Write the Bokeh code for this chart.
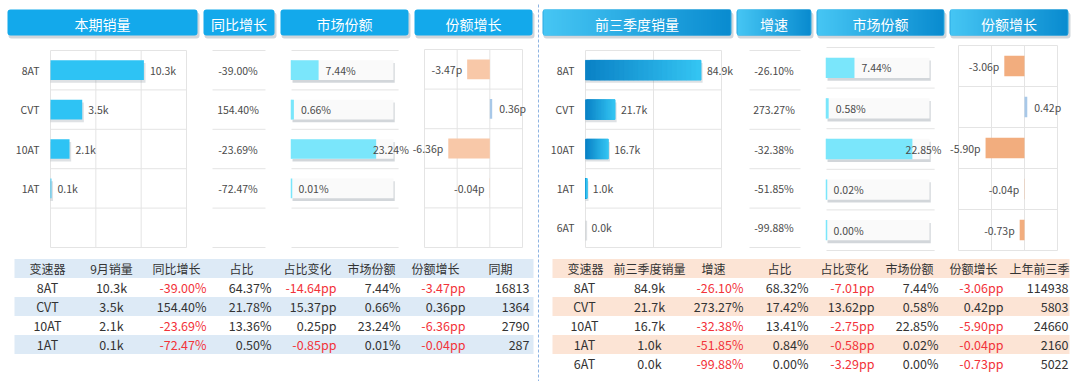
import numpy as np
from bokeh.plotting import figure
from bokeh.models import Range1d, ColumnDataSource
from bokeh.core.properties import value
from bokeh.embed import file_html
from bokeh.resources import INLINE

# ---------------- data ----------------
left_cats = ["8AT", "CVT", "10AT", "1AT"]
left_sales_k = [10.3, 3.5, 2.1, 0.1]
left_yoy = [-39.00, 154.40, -23.69, -72.47]
left_ratio = [64.37, 21.78, 13.36, 0.50]
left_ratio_chg = [-14.64, 15.37, 0.25, -0.85]
left_share = [7.44, 0.66, 23.24, 0.01]
left_share_chg = [-3.47, 0.36, -6.36, -0.04]
left_prev = [16813, 1364, 2790, 287]

right_cats = ["8AT", "CVT", "10AT", "1AT", "6AT"]
right_sales_k = [84.9, 21.7, 16.7, 1.0, 0.0]
right_yoy = [-26.10, 273.27, -32.38, -51.85, -99.88]
right_ratio = [68.32, 17.42, 13.41, 0.84, 0.00]
right_ratio_chg = [-7.01, 13.62, -2.75, -0.58, -3.29]
right_share = [7.44, 0.58, 22.85, 0.02, 0.00]
right_share_chg = [-3.06, 0.42, -5.90, -0.04, -0.73]
right_prev = [114938, 5803, 24660, 2160, 5022]

left_headers = ["本期销量", "同比增长", "市场份额", "份额增长"]
right_headers = ["前三季度销量", "增速", "市场份额", "份额增长"]
left_table_headers = ["变速器", "9月销量", "同比增长", "占比", "占比变化", "市场份额", "份额增长", "同期"]
right_table_headers = ["变速器", "前三季度销量", "增速", "占比", "占比变化", "市场份额", "份额增长", "上年前三季"]

left_sales_ticks = [0, 5, 10, 15]
right_sales_ticks = [0, 50, 100]
share_chg_ticks = [-10, -5, 0, 5]
left_share_max = 28.0
right_share_max = 27.4

# ---------------- styling ----------------
FONT = value("Noto Sans CJK SC")
GRID = "#e4e4e4"
TXT = "#4a4a4a"
RED = "#f2333a"
NSLOT = 5
LBL = "10.5px"

W, H = 1080, 381
p = figure(width=W, height=H, x_range=Range1d(0, W), y_range=Range1d(H, 0),
           output_backend="svg", toolbar_location=None, min_border=0,
           x_axis_location=None, y_axis_location=None)
p.grid.visible = False
p.outline_line_color = None
p.background_fill_color = "white"
p.border_fill_color = "white"


def grad_img(c0, c1, n=96):
    a = np.zeros((2, n), dtype=np.uint32)
    v = a.view(dtype=np.uint8).reshape((2, n, 4))
    t = np.linspace(0, 1, n)
    for k in range(3):
        v[:, :, k] = (c0[k] + (c1[k] - c0[k]) * t).astype(np.uint8)
    v[:, :, 3] = 255
    return a


def mix(c0, c1, t):
    return "#%02x%02x%02x" % tuple(int(round(a + (b - a) * t)) for a, b in zip(c0, c1))


def sub(x0, x1, xs, y0, y1):
    return p.subplot(x_source=Range1d(xs[0], xs[1]), y_source=Range1d(0, NSLOT),
                     x_target=Range1d(x0, x1), y_target=Range1d(y0, y1))


def hlines(sp, xa, xb):
    n = NSLOT + 1
    sp.segment(x0=[xa] * n, x1=[xb] * n, y0=list(range(n)), y1=list(range(n)),
               line_color=GRID, line_width=1)


def vlines(sp, ticks):
    sp.segment(x0=ticks, x1=ticks, y0=[0] * len(ticks), y1=[NSLOT] * len(ticks),
               line_color=GRID, line_width=1)


def txt(sp, x, y, t, align="left", color=TXT, size=LBL, xoff=0, yoff=0):
    sp.text(x=x, y=y, text=t, text_align=align, text_baseline="middle",
            text_color=color, text_font=FONT, text_font_size=size,
            x_offset=xoff, y_offset=yoff)


# ---------------- headers ----------------
hdr_left_boxes = [(7, 197), (203, 274), (280, 408), (414, 532)]
hdr_right_boxes = [(542, 731), (736, 811), (816, 944), (949, 1068)]
HY0, HY1 = 9, 35
for (a, b) in hdr_left_boxes + hdr_right_boxes:
    p.quad(left=a + 1, right=b + 2, top=HY0 + 3, bottom=HY1 + 3, fill_color="#7a8a99",
           fill_alpha=0.35, line_color=None, border_radius=3)
for (a, b), t in zip(hdr_left_boxes, left_headers):
    p.quad(left=a, right=b, top=HY0, bottom=HY1, fill_color="#13a9eb", line_color=None,
           border_radius=3)
    p.text(x=[(a + b) / 2], y=[(HY0 + HY1) / 2 + 1], text=[t], text_align="center",
           text_baseline="middle", text_color="white", text_font=FONT, text_font_size="14px")
hgrad = grad_img((70, 198, 244), (10, 140, 208))
for (a, b), t in zip(hdr_right_boxes, right_headers):
    p.quad(left=a, right=b, top=HY0, bottom=HY1, fill_color="#2aa9e2", line_color=None,
           border_radius=3)
    p.image_rgba(image=[hgrad], x=a + 1, y=HY0, dw=b - a - 2, dh=HY1 - HY0)
    p.text(x=[(a + b) / 2], y=[(HY0 + HY1) / 2 + 1], text=[t], text_align="center",
           text_baseline="middle", text_color="white", text_font=FONT, text_font_size="14px")

# divider
p.segment(x0=[538], x1=[538], y0=[4], y1=[381], line_color="#8db3e2", line_width=1,
          line_dash="3 2")

GRAD_N = 24


def panel_half(cats, sales_k, sales_ticks, sx, yoy, yx, share, shx, share_max, sy_share,
               chg, cx, sy_chg, bar_color, grad, neg_color, sy_main, lab_cap):
    n = len(cats)
    yc = [i + 0.5 for i in range(n)]
    # ---- sales panel
    s1 = sub(sx[0], sx[1], (sales_ticks[0], sales_ticks[-1]), sy_main[0], sy_main[1])
    hlines(s1, sales_ticks[0], sales_ticks[-1])
    vlines(s1, sales_ticks)
    rng = sales_ticks[-1] - sales_ticks[0]
    s1.hbar(y=[c + 0.07 for c in yc], left=0, right=[v + rng * 0.012 for v in sales_k],
            height=0.5, fill_color="#6b7785", fill_alpha=0.22, line_color=None)
    s1.hbar(y=yc, left=0, right=sales_k, height=0.5, fill_color=bar_color, line_color=None)
    if grad is not None:
        ys, ls, rs, cs = [], [], [], []
        for c, v in zip(yc, sales_k):
            if v <= 0:
                continue
            for k in range(GRAD_N):
                ys.append(c)
                ls.append(v * k / GRAD_N)
                rs.append(min(v, v * (k + 2) / GRAD_N))
                cs.append(mix(grad[0], grad[1], k / (GRAD_N - 1)))
        s1.hbar(y=ys, left=ls, right=rs, height=0.5, fill_color=cs, line_color=cs,
                line_width=0.6)
    txt(s1, sales_k, yc, [f"{v:.1f}k" for v in sales_k], xoff=6)
    txt(s1, [0] * n, yc, cats, align="right", xoff=-11)
    # ---- yoy column
    s2 = sub(yx[0], yx[1], (0, 1), sy_main[0], sy_main[1])
    hlines(s2, 0, 1)
    txt(s2, [0.5] * n, yc, [f"{v:.2f}%" for v in yoy], align="center", xoff=-1)
    # ---- share panel
    s3 = sub(shx[0], shx[1], (0, share_max), sy_share[0], sy_share[1])
    hlines(s3, 0, share_max * 1.05)
    s3.hbar(y=[c + 0.07 for c in yc], left=share_max * 0.01, right=share_max * 1.012,
            height=0.5, fill_color="#6b7785", fill_alpha=0.3, line_color=None)
    s3.hbar(y=yc, left=0, right=share_max, height=0.5, fill_color="#fafafa", line_color=None)
    s3.hbar(y=yc, left=0, right=share, height=0.5, fill_color="#7ae6fb", line_color=None)
    s3.segment(x0=[0] * n, x1=[0] * n, y0=[c - 0.25 for c in yc], y1=[c + 0.25 for c in yc],
               line_color="#7ae6fb", line_width=1.5)
    lab_x = [min(v, share_max * lab_cap) for v in share]
    txt(s3, lab_x, yc, [f"{v:.2f}%" for v in share], xoff=7)
    # ---- share change panel
    s4 = sub(cx[0], cx[1], (share_chg_ticks[0], share_chg_ticks[-1]), sy_chg[0], sy_chg[1])
    hlines(s4, share_chg_ticks[0], share_chg_ticks[-1])
    vlines(s4, share_chg_ticks)
    neg = [(c, v) for c, v in zip(yc, chg) if v < 0]
    pos = [(c, v) for c, v in zip(yc, chg) if v >= 0]
    if neg:
        s4.hbar(y=[c for c, _ in neg], left=[v for _, v in neg], right=0, height=0.5,
                fill_color=neg_color, line_color=None)
        txt(s4, [v for _, v in neg], [c for c, _ in neg], [f"{v:.2f}p" for _, v in neg],
            align="right", xoff=-5)
    if pos:
        s4.hbar(y=[c for c, _ in pos], left=0, right=[v for _, v in pos], height=0.5,
                fill_color="#a8c8e8", line_color=None)
        txt(s4, [v for _, v in pos], [c for c, _ in pos], [f"{v:.2f}p" for _, v in pos],
            align="left", xoff=7)


panel_half(left_cats, left_sales_k, left_sales_ticks, (50, 186), left_yoy, (212, 265),
           left_share, (291, 393), left_share_max, (50, 247), left_share_chg, (424, 522),
           (49, 247), "#2ec3f4", None, "#f8c8a8", (50, 247), 0.73)
panel_half(right_cats, right_sales_k, right_sales_ticks, (585, 721), right_yoy, (749, 800),
           right_share, (826, 929), right_share_max, (47, 250), right_share_chg, (958, 1057),
           (45, 250), "#1fa2dd", ((10, 130, 198), (52, 196, 242)), "#f2ad7e", (50, 247), 0.70)


# ---------------- tables ----------------
def pct(v):
    return f"{v:.2f}%"


def pp(v):
    return f"{v:.2f}pp"


def table(x0, x1, band, cats, sales_k, yoy, ratio, rchg, share, schg, prev, headers, cols,
          banded_rows):
    TY0, RH = 258.5, 19.0
    n = len(cats)
    p.quad(left=x0, right=x1, top=TY0, bottom=TY0 + RH, fill_color=band, line_color=None)
    for i in range(n):
        if i in banded_rows:
            p.quad(left=x0, right=x1, top=TY0 + RH * (i + 1), bottom=TY0 + RH * (i + 2),
                   fill_color=band, line_color=None)
    hy = TY0 + RH / 2
    ry = [TY0 + RH * (i + 1) + RH / 2 for i in range(n)]
    p.text(x=[c[0] for c in cols], y=[hy] * len(cols), text=headers, text_align="center",
           text_baseline="middle", text_color="#333333", text_font=FONT, text_font_size="12px")
    columns = [
        (cats, ["#333333"] * n),
        ([f"{v:.1f}k" for v in sales_k], ["#333333"] * n),
        ([pct(v) for v in yoy], [RED if v < 0 else "#333333" for v in yoy]),
        ([pct(v) for v in ratio], ["#333333"] * n),
        ([pp(v) for v in rchg], [RED if v < 0 else "#333333" for v in rchg]),
        ([pct(v) for v in share], ["#333333"] * n),
        ([pp(v) for v in schg], [RED if v < 0 else "#333333" for v in schg]),
        ([str(v) for v in prev], ["#333333"] * n),
    ]
    for (hx, vx, al), (vals, colors) in zip(cols, columns):
        src = ColumnDataSource(dict(x=[vx] * n, y=ry, t=vals, c=colors))
        p.text(x="x", y="y", text="t", text_color="c", source=src, text_align=al,
               text_baseline="middle", text_font=FONT, text_font_size="12.5px")


cols_L = [(47, 47, "center"), (111, 111, "center"), (176, 206, "right"), (241, 271, "right"),
          (307, 336, "right"), (371, 400, "right"), (435, 465, "right"), (500, 529, "right")]
cols_R = [(585, 584, "center"), (649, 649, "center"), (713, 743, "right"), (779, 808, "right"),
          (844, 874, "right"), (909, 938, "right"), (973, 1003, "right"), (1039, 1068, "right")]

table(14, 533, "#ddeaf6", left_cats, left_sales_k, left_yoy, left_ratio, left_ratio_chg,
      left_share, left_share_chg, left_prev, left_table_headers, cols_L, banded_rows={1, 3})
table(552, 1069, "#fce4d5", right_cats, right_sales_k, right_yoy, right_ratio, right_ratio_chg,
      right_share, right_share_chg, right_prev, right_table_headers, cols_R, banded_rows={1, 3})

open("out.html", "w").write(file_html(p, INLINE))
